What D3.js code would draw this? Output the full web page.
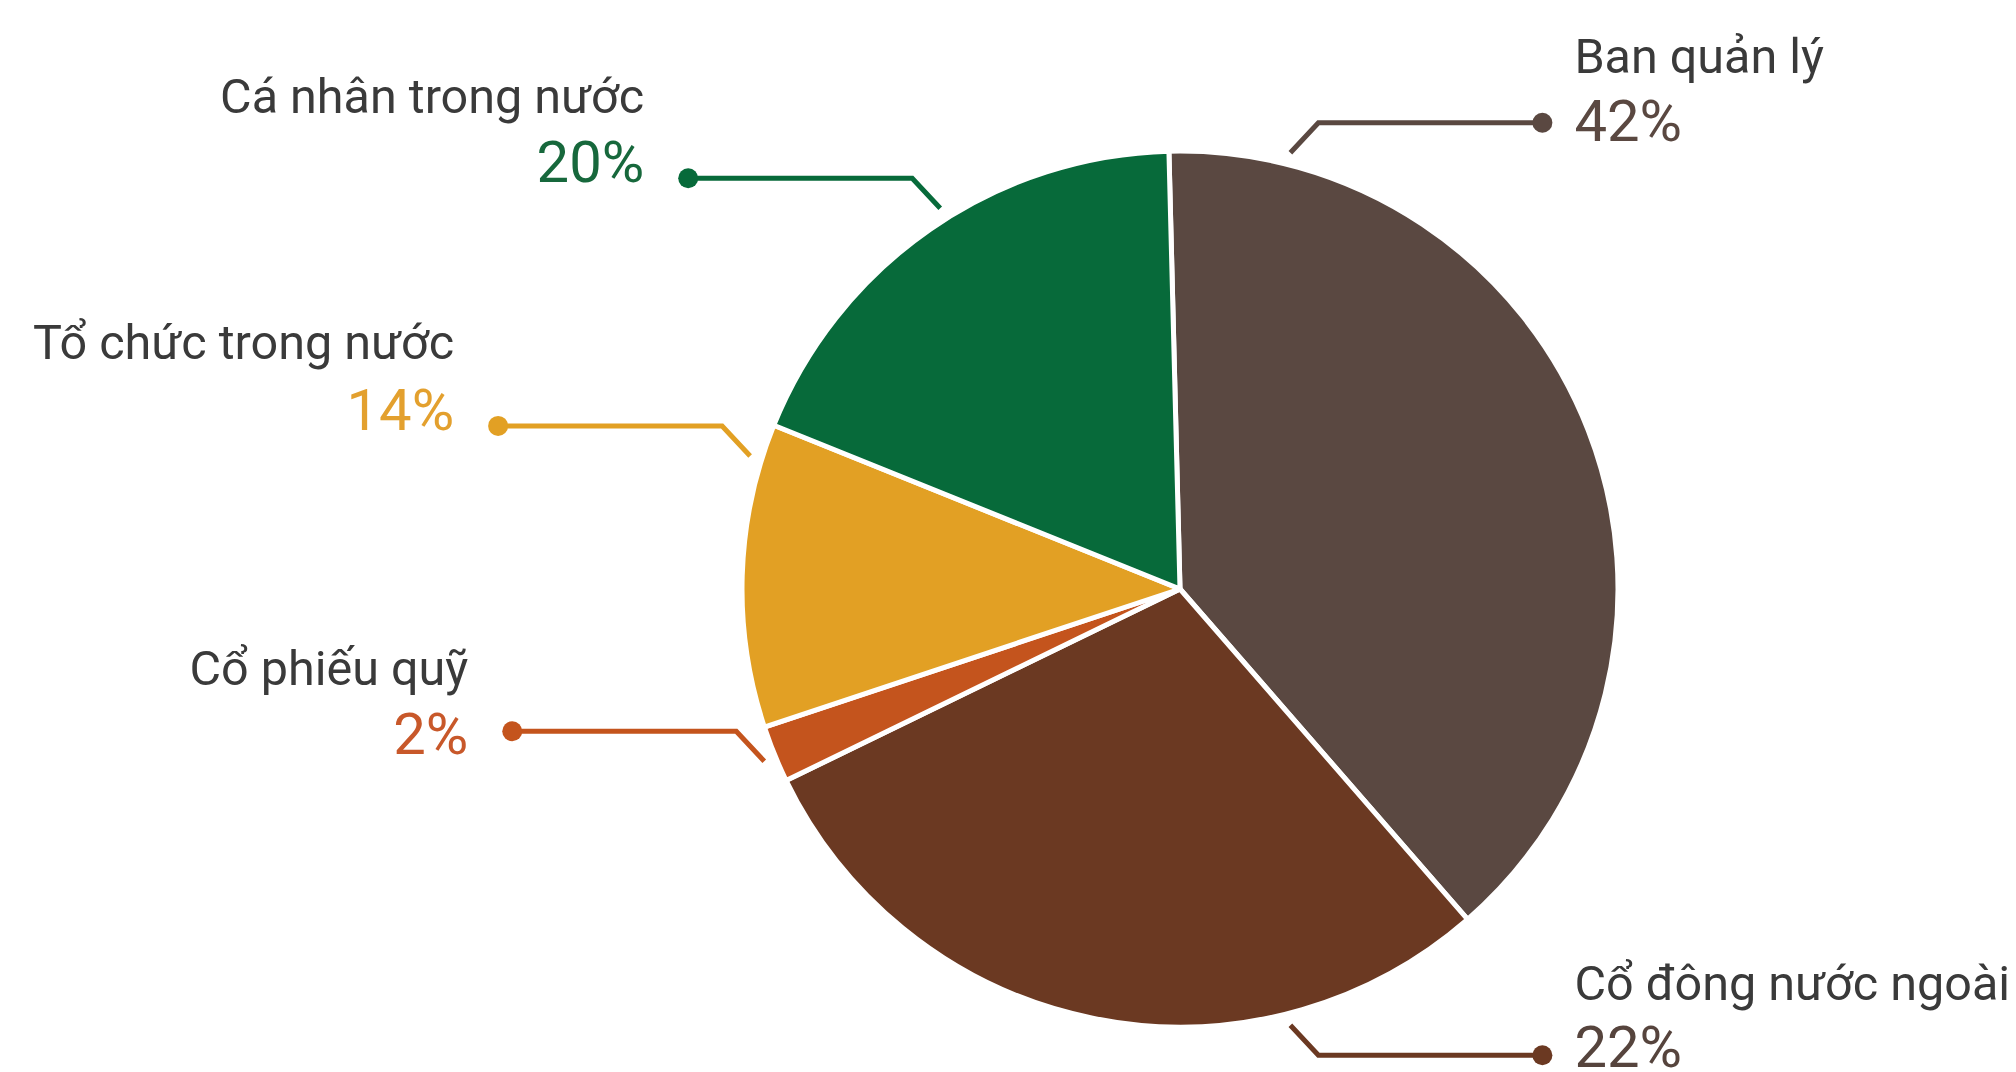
<!DOCTYPE html>
<html>
<head>
<meta charset="utf-8">
<script src="https://cdn.jsdelivr.net/npm/d3@7"></script>
<style>
  html, body { margin: 0; padding: 0; background: #fff; }
  svg text { font-family: Roboto, "Noto Sans", sans-serif; }
</style>
</head>
<body>
<div id="chart"></div>
<script>
// shareholder groups, in drawing order (clockwise from 12 o'clock)
const groups = ['Ban quản lý', 'Cổ đông nước ngoài', 'Cổ phiếu quỹ', 'Tổ chức trong nước', 'Cá nhân trong nước'];
// percentages printed on the labels
const labelPct = [42, 22, 2, 14, 20];
// slice sizes as they are drawn in the picture (angles)
const sliceShare = [39.0, 29.2, 2.1, 11.2, 18.5];

const sliceColors = ['#5a4841', '#6b3922', '#c4541d', '#e2a024', '#076a3a'];
const pctColors = ['#5a4841', '#56443d', '#c8582a', '#e3a02e', '#17683c'];

const width = 2016, height = 1072;
const cx = 1180, cy = 589, radius = 438;
const startDeg = -1.45;

// where each leader leaves the pie (degrees clockwise from top) and how labels sit
const leaders = [
  { angle: 14.2,  side: 1,  up: -1, nameDy: -50, pctDy: 18 },
  { angle: 165.8, side: 1,  up: 1,  nameDy: -55, pctDy: 12 },
  { angle: 247.5, side: -1, up: -1, nameDy: -46, pctDy: 23 },
  { angle: 287.2, side: -1, up: -1, nameDy: -67, pctDy: 4 },
  { angle: 327.8, side: -1, up: -1, nameDy: -65, pctDy: 4 }
];

const rad = d => d * Math.PI / 180;

const svg = d3.select('#chart').append('svg')
    .attr('width', width)
    .attr('height', height);

const pie = d3.pie()
    .sort(null)
    .value(d => d)
    .startAngle(rad(startDeg))
    .endAngle(rad(startDeg) + 2 * Math.PI);

const arc = d3.arc().innerRadius(0).outerRadius(radius);

const g = svg.append('g').attr('transform', `translate(${cx},${cy})`);

g.selectAll('path.slice')
  .data(pie(sliceShare))
  .enter().append('path')
    .attr('class', 'slice')
    .attr('d', arc)
    .attr('fill', (d, i) => sliceColors[i])
    .attr('stroke', '#fff')
    .attr('stroke-width', 5)
    .attr('stroke-linejoin', 'round');

// leader lines + labels
const leaderR = radius + 12;
const diag = [28, 30], run = 224;

leaders.forEach((L, i) => {
  const a = rad(L.angle);
  const p0 = [leaderR * Math.sin(a), -leaderR * Math.cos(a)];
  const p1 = [p0[0] + L.side * diag[0], p0[1] + L.up * diag[1]];
  const p2 = [p1[0] + L.side * run, p1[1]];
  const lineColor = sliceColors[i];

  g.append('path')
      .attr('d', d3.line()([p0, p1, p2]))
      .attr('fill', 'none')
      .attr('stroke', lineColor)
      .attr('stroke-width', 5);

  g.append('circle')
      .attr('cx', p2[0])
      .attr('cy', p2[1])
      .attr('r', 10)
      .attr('fill', lineColor);

  const tx = p2[0] + L.side * (L.side > 0 ? 32 : 44);
  const anchor = L.side > 0 ? 'start' : 'end';

  g.append('text')
      .attr('x', tx)
      .attr('y', p2[1] + L.nameDy)
      .attr('text-anchor', anchor)
      .attr('font-size', 48.5)
      .attr('fill', '#3a3a3a')
      .text(groups[i]);

  g.append('text')
      .attr('x', tx)
      .attr('y', p2[1] + L.pctDy)
      .attr('text-anchor', anchor)
      .attr('font-size', 58)
      .attr('fill', pctColors[i])
      .text(labelPct[i] + '%');
});
</script>
</body>
</html>
